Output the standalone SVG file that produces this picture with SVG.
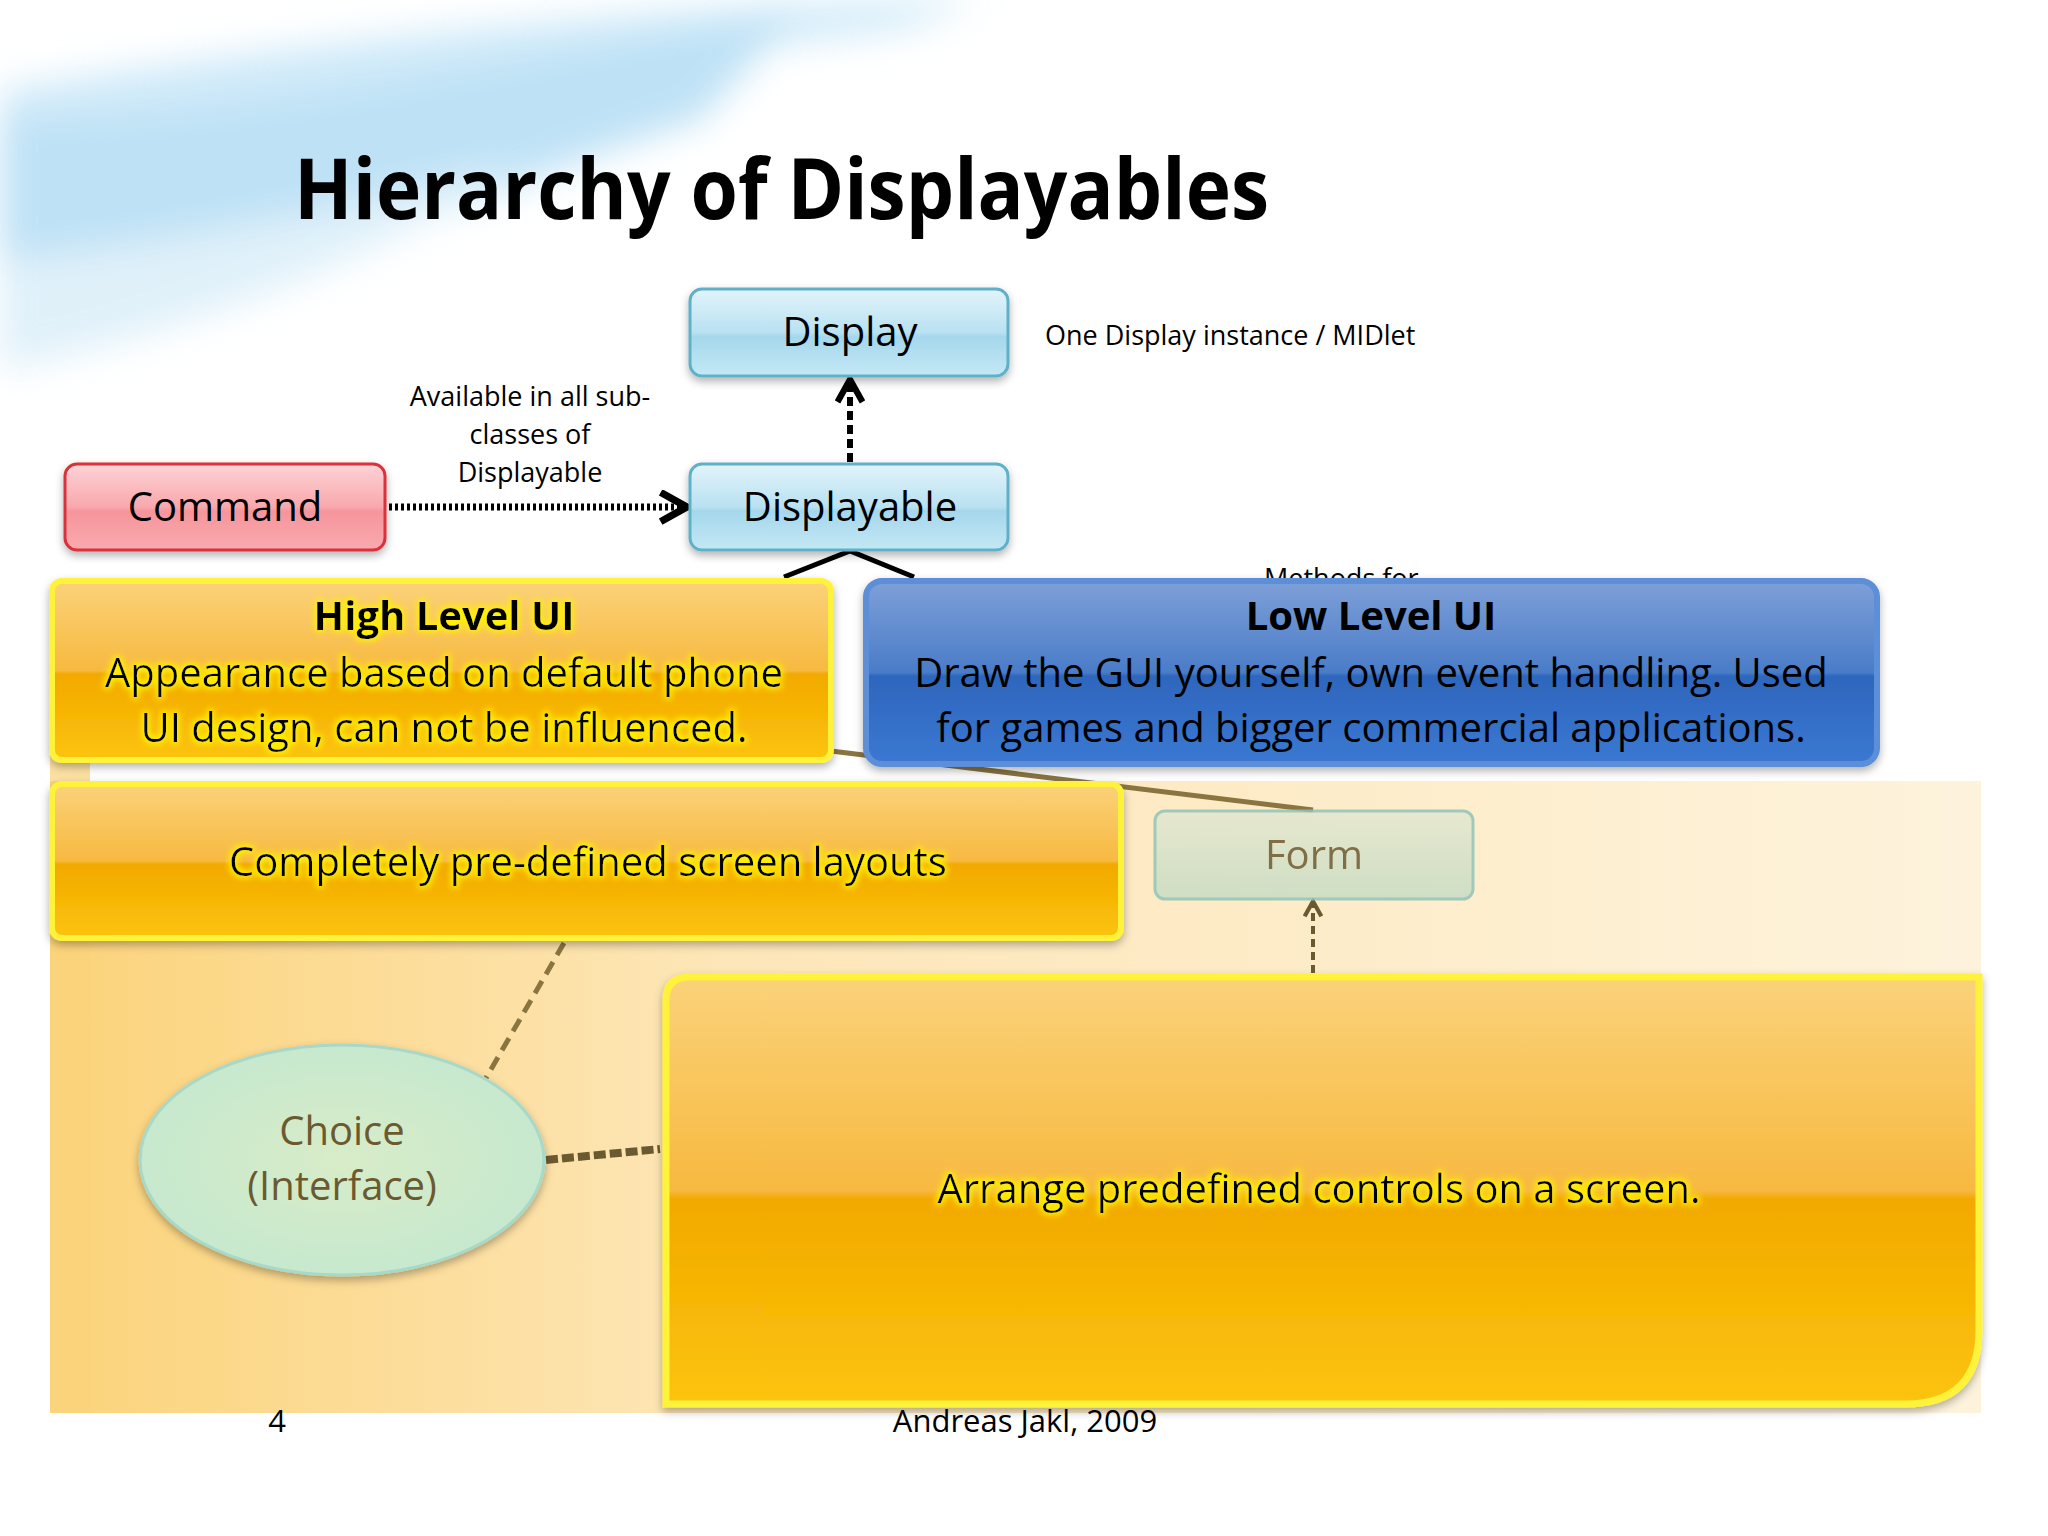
<svg xmlns="http://www.w3.org/2000/svg" width="2048" height="1536" viewBox="0 0 2048 1536">
<defs>
<linearGradient id="gBlue" x1="0" y1="0" x2="0" y2="1"><stop offset="0" stop-color="#e2f4fb"/><stop offset="0.5" stop-color="#b9e1f1"/><stop offset="0.55" stop-color="#a5d7ec"/><stop offset="1" stop-color="#c4e8f5"/></linearGradient>
<linearGradient id="gRed" x1="0" y1="0" x2="0" y2="1"><stop offset="0" stop-color="#fdd3d6"/><stop offset="0.5" stop-color="#f9a8ad"/><stop offset="0.55" stop-color="#f6959b"/><stop offset="1" stop-color="#f9aab0"/></linearGradient>
<linearGradient id="gYel" x1="0" y1="0" x2="0" y2="1"><stop offset="0" stop-color="#fbd27a"/><stop offset="0.5" stop-color="#f7b940"/><stop offset="0.52" stop-color="#f2a900"/><stop offset="1" stop-color="#fcc40c"/></linearGradient>
<linearGradient id="gDark" x1="0" y1="0" x2="0" y2="1"><stop offset="0" stop-color="#7ea0d8"/><stop offset="0.5" stop-color="#4a7cc8"/><stop offset="0.52" stop-color="#2e66bd"/><stop offset="1" stop-color="#3b78d2"/></linearGradient>
<linearGradient id="gBg" x1="0" y1="0" x2="1" y2="0"><stop offset="0" stop-color="#fbd37a"/><stop offset="0.35" stop-color="#fde6b8"/><stop offset="1" stop-color="#fdf3dc"/></linearGradient>
<linearGradient id="gForm" x1="0" y1="0" x2="0" y2="1"><stop offset="0" stop-color="#e3e8d0"/><stop offset="1" stop-color="#c7dcc4"/></linearGradient>
<radialGradient id="gEll" cx="0.5" cy="0.5" r="0.6"><stop offset="0" stop-color="#d8ecc8"/><stop offset="1" stop-color="#c3e8cf"/></radialGradient>
<clipPath id="clipM"><rect x="1200" y="540" width="300" height="41"/></clipPath>
<filter id="blur" x="-20%" y="-20%" width="140%" height="140%"><feGaussianBlur stdDeviation="18"/></filter>
<filter id="glow" x="-10%" y="-30%" width="120%" height="160%"><feMorphology operator="dilate" radius="2" in="SourceAlpha" result="d"/><feGaussianBlur in="d" stdDeviation="3" result="b"/><feFlood flood-color="#fff200"/><feComposite in2="b" operator="in" result="g"/><feMerge><feMergeNode in="g"/><feMergeNode in="SourceGraphic"/></feMerge></filter>
<filter id="sh" x="-5%" y="-10%" width="110%" height="125%"><feDropShadow dx="0" dy="4" stdDeviation="4" flood-opacity="0.3"/></filter>
<marker id="ah" viewBox="0 0 12 12" refX="9" refY="6" markerWidth="5" markerHeight="5" orient="auto"><path d="M1,1 L10,6 L1,11" fill="none" stroke="#000" stroke-width="2.5"/></marker>
<marker id="ah2" viewBox="0 0 12 12" refX="9" refY="6" markerWidth="5" markerHeight="5" orient="auto"><path d="M1,1 L10,6 L1,11" fill="none" stroke="#6b5a30" stroke-width="2.5"/></marker>
<style>
text{font-family:"Open Sans","Liberation Sans",sans-serif;}
.n{font-size:40px;fill:#000;text-anchor:middle;}
.s{font-size:27px;fill:#000;}
.b{font-size:40px;fill:#000;text-anchor:middle;}
.f{font-size:40px;fill:#6b5a30;text-anchor:middle;}
.box{stroke-width:3;}
</style>
</defs>
<rect width="2048" height="1536" fill="#fff"/>
<g id="bgdeco" filter="url(#blur)" opacity="0.75">
<path d="M0,90 C300,40 700,0 980,0 L900,30 C600,60 300,130 0,200 Z" fill="#bfe3f7"/>
<path d="M0,120 C250,120 500,60 800,10 L700,120 C450,200 250,300 0,360 Z" fill="#a9d8f3"/>
<path d="M0,260 C200,240 380,200 520,160 C400,250 200,330 0,370 Z" fill="#d5ecf8"/>
</g>
<text x="294" y="219" font-size="84" font-weight="bold" textLength="975" lengthAdjust="spacingAndGlyphs" fill="#000" style="font-size:84px">Hierarchy of Displayables</text>
<rect x="50" y="781" width="1931" height="632" fill="url(#gBg)"/>
<rect x="50" y="750" width="40" height="663" fill="#fbd37a" opacity="0.7"/>
<g id="connectors">
<path d="M389,507 L684,507" stroke="#000" stroke-width="7" stroke-dasharray="3,3" fill="none" marker-end="url(#ah)"/>
<path d="M850,462 L850,382" stroke="#000" stroke-width="6" stroke-dasharray="9,5" fill="none" marker-end="url(#ah)"/>
<path d="M784,577 L850,551 L914,577" stroke="#000" stroke-width="5" fill="none"/>
<path d="M831,751 L1313,810" stroke="#8a7440" stroke-width="5" fill="none"/>
<path d="M1313,973 L1313,903" stroke="#6b5a30" stroke-width="4" stroke-dasharray="8,5" fill="none" marker-end="url(#ah2)"/>
<path d="M564,943 L486,1078" stroke="#8a7440" stroke-width="5" stroke-dasharray="14,8" fill="none"/>
<path d="M546,1160 L660,1149" stroke="#6b5a30" stroke-width="8" stroke-dasharray="12,4" fill="none"/>
</g>
<text class="s" x="1264" y="588" clip-path="url(#clipM)">Methods for</text>
<g id="display"><rect class="box" x="690" y="289" width="318" height="87" rx="12" fill="url(#gBlue)" stroke="#5fb0c8" filter="url(#sh)"/><text class="n" x="850" y="346">Display</text></g>
<text class="s" x="1045" y="345">One Display instance / MIDlet</text>
<g id="displayable"><rect class="box" x="690" y="464" width="318" height="86" rx="12" fill="url(#gBlue)" stroke="#5fb0c8" filter="url(#sh)"/><text class="n" x="850" y="521">Displayable</text></g>
<g id="command"><rect class="box" x="65" y="464" width="320" height="86" rx="12" fill="url(#gRed)" stroke="#d9303a" filter="url(#sh)"/><text class="n" x="225" y="521">Command</text></g>
<g id="avail"><text class="s" x="530" y="406" text-anchor="middle">Available in all sub-</text><text class="s" x="530" y="444" text-anchor="middle">classes of</text><text class="s" x="530" y="482" text-anchor="middle">Displayable</text></g>
<g id="form" opacity="0.85"><rect class="box" x="1155" y="811" width="318" height="88" rx="10" fill="url(#gForm)" stroke="#8fc4b8"/><text class="f" x="1314" y="869">Form</text></g>
<g id="choice"><ellipse cx="342" cy="1160" rx="202" ry="115" fill="url(#gEll)" stroke="#a8d8c8" stroke-width="3" filter="url(#sh)"/><text class="f" x="342" y="1145">Choice</text><text class="f" x="342" y="1200">(Interface)</text></g>
<g id="highlevel"><rect x="52" y="581" width="779" height="179" rx="10" fill="url(#gYel)" stroke="#fff23a" stroke-width="6" filter="url(#sh)"/>
<g filter="url(#glow)"><text class="b" x="444" y="630" font-weight="bold">High Level UI</text><text class="b" x="444" y="687">Appearance based on default phone</text><text class="b" x="444" y="742">UI design, can not be influenced.</text></g></g>
<g id="lowlevel"><rect x="866" y="581" width="1011" height="183" rx="16" fill="url(#gDark)" stroke="#5b8fd8" stroke-width="6" filter="url(#sh)"/>
<text class="b" x="1371" y="630" font-weight="bold">Low Level UI</text><text class="b" x="1371" y="687">Draw the GUI yourself, own event handling. Used</text><text class="b" x="1371" y="742">for games and bigger commercial applications.</text></g>
<g id="predefined"><rect x="52" y="784" width="1069" height="154" rx="10" fill="url(#gYel)" stroke="#fff23a" stroke-width="6" filter="url(#sh)"/><g filter="url(#glow)"><text class="b" x="588" y="876">Completely pre-defined screen layouts</text></g></g>
<g id="arrange"><path d="M666,1000 Q666,977 690,977 L1979,977 L1979,1330 Q1979,1404 1905,1404 L666,1404 Z" fill="url(#gYel)" stroke="#fff23a" stroke-width="7" filter="url(#sh)"/><g filter="url(#glow)"><text class="b" x="1319" y="1203">Arrange predefined controls on a screen.</text></g></g>
<text x="277" y="1432" font-size="31" style="font-size:31px" text-anchor="middle" fill="#000">4</text>
<text x="1025" y="1432" font-size="31" style="font-size:31px" text-anchor="middle" fill="#000">Andreas Jakl, 2009</text>
</svg>
